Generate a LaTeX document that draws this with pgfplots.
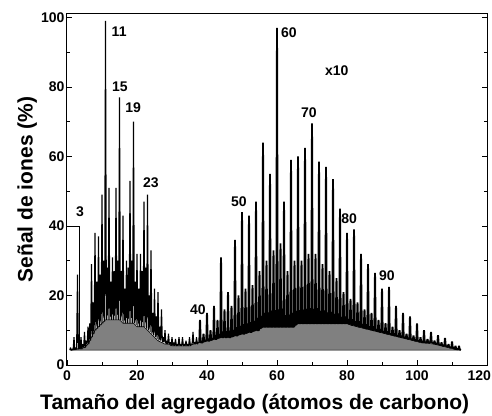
\documentclass[border=0pt]{standalone}
\usepackage{fontspec}
\setmainfont{Liberation Sans}
\usepackage{pgfplots}
\pgfplotsset{compat=1.18}
\pgfplotstableread{
x y
0.8 4.3
1 5
1.25 4.3
1.5 4.5
1.75 4.3
2 8
2.25 4.3
2.5 5
2.75 4.5
3 26
3.25 4.5
3.5 6
3.75 4.5
4 8
4.25 4.5
4.5 6
4.75 5
5 9.5
5.25 5
5.5 7
5.75 6
6 11
6.25 6
6.5 12
6.75 7
7 29
7.25 8
7.5 18
7.75 9
8 38
8.25 10
8.5 24
8.75 10.5
9 37
9.25 11
9.5 26
9.75 11.5
10 49
10.25 12
10.5 30
10.75 12.5
11 99
11.25 13
11.5 28
11.75 13
12 51
12.25 13
12.5 24
12.75 13
13 31
13.25 13
13.5 27
13.75 13
14 51
14.25 13
14.5 30
14.75 13
15 77
15.25 13
15.5 27
15.75 12.5
16 43
16.25 12
16.5 22
16.75 12
17 30
17.25 12
17.5 28
17.75 12
18 53
18.25 12
18.5 30
18.75 12
19 70
19.25 12
19.5 24
19.75 11.5
20 32
20.25 11
20.5 22
20.75 11
21 32
21.25 11
21.5 27
21.75 11
22 47
22.25 11
22.5 28
22.75 10.5
23 49
23.25 10
23.5 20
23.75 9.5
24 33
24.25 9
24.5 15
24.75 8.5
25 22
25.25 8
25.5 14
25.75 7.5
26 21
26.25 7
26.5 11
26.75 7
27 16
27.25 6.5
27.5 8
27.75 6.5
28 10
28.25 6
28.5 7
28.75 6
29 9
29.25 6
29.5 6.5
29.75 5.5
30 8
30.25 5.5
30.5 6.5
30.75 5.5
31 7.5
31.25 5.5
31.5 6
31.75 5.5
32 8
32.25 5.5
32.5 6
32.75 5.5
33 8
33.25 5.5
33.5 6
33.75 5.5
34 7
34.25 5.5
34.5 6
34.75 5.5
35 8
35.25 5.5
35.5 6
35.75 6
36 9.5
36.25 6
36.5 6.5
36.75 6
37 8
37.25 6
37.5 6.5
37.8 6.5
38 13
38.2 6.5
38.8 6.5
39 9
39.2 6.8
39.8 7
40 15
40.2 7
40.8 7
41 10
41.2 7.2
41.8 7.5
42 17
42.2 7.5
42.8 7.5
43 13
43.2 7.8
43.8 8
44 31
44.2 8
44.8 8
45 16
45.2 8
45.8 8
46 21
46.2 8
46.8 8
47 17
47.2 8.2
47.8 8.5
48 36
48.2 8.5
48.8 8.5
49 20
49.2 8.8
49.8 9
50 44
50.2 9
50.8 9
51 22
51.2 9.2
51.8 9.5
52 43
52.2 9.5
52.8 9.5
53 23
53.2 9.8
53.8 10
54 47
54.2 10
54.8 10
55 27
55.2 10.5
55.8 11
56 64
56.2 11
56.8 11
57 30
57.2 11
57.8 11
58 55
58.2 11
58.8 11
59 33
59.2 11
59.8 11
60 97
60.2 11
60.8 11
61 35
61.2 11
61.8 11
62 47
62.2 11
62.8 11
63 27
63.2 11
63.8 11
64 59
64.2 11
64.8 11
65 30
65.2 11.5
65.8 12
66 60
66.2 12
66.8 12
67 30
67.2 12
67.8 12
68 62.5
68.2 12
68.8 12
69 32
69.2 12
69.8 12
70 69.5
70.2 12
70.8 12
71 32
71.2 12
71.8 12
72 58.5
72.2 12
72.8 12
73 29
73.2 12
73.8 12
74 57
74.2 12
74.8 12
75 27
75.2 12
75.8 12
76 53.5
76.2 12
76.8 12
77 25
77.2 12
77.8 12
78 45
78.2 12
78.8 12
79 21
79.2 12
79.8 12
80 38
80.2 12
80.8 11.8
81 19
81.2 11.6
81.8 11.5
82 39
82.2 11.5
82.8 11.2
83 18
83.2 11.1
83.8 11
84 32
84.2 11
84.8 10.7
85 16
85.2 10.6
85.8 10.5
86 29
86.2 10.5
86.8 10.2
87 15
87.2 10.1
87.8 10
88 26.5
88.2 10
88.8 9.7
89 13
89.2 9.6
89.8 9.5
90 22
90.2 9.5
90.8 9.2
91 12
91.2 9.1
91.8 9
92 22.5
92.2 9
92.8 8.7
93 11
93.2 8.6
93.8 8.5
94 17
94.2 8.5
94.8 8.2
95 10
95.2 8.1
95.8 8
96 15
96.2 8
96.8 7.7
97 9
97.2 7.6
97.8 7.5
98 14
98.2 7.5
98.8 7.2
99 8.5
99.2 7.1
99.8 7
100 12
100.2 7
100.8 6.7
101 8
101.2 6.6
101.8 6.5
102 10
102.2 6.5
102.8 6.5
103 7.5
103.2 6.5
103.8 6.5
104 9.5
104.2 6.5
104.8 6.2
105 7
105.2 6.1
105.8 6
106 8.6
106.2 6
106.8 5.7
107 6.5
107.2 5.6
107.8 5.5
108 7.8
108.2 5.5
108.8 5.2
109 6
109.2 5.1
109.8 5
110 6.8
110.2 5
110.8 4.7
111 5.5
111.2 4.6
111.8 4.5
112 5.5
112.2 4.5
112.5 4.3
}\spectrum
\pgfplotstableread{
x y
0.8 4.3
5 5
6 6
7 8
8 10
9 11
10 12
11 13
15 13
16 12
19 12
20 11
22 11
23 10
24 9
25 8
26 7
27 6.5
28 6
29 6
30 5.5
35 5.5
36 6
38 6.5
40 7
42 7.5
44 8
47 8.5
49 9
51 9.5
53 10
55 10.5
56 11
65 11
66 12
80 12
81 11.5
83 11
85 10.5
87 10
89 9.5
91 9
93 8.5
95 8
97 7.5
99 7
101 6.5
105 6
107 5.5
109 5
111 4.5
112.5 4.3
0.8 4.3
}\envelope
\begin{document}
\begin{tikzpicture}
\useasboundingbox (-67pt,-50pt) rectangle (425pt,365pt);
\begin{axis}[
  at={(0,0)}, anchor=south west,
  scale only axis, width=420pt, height=351pt,
  xmin=0, xmax=120, ymin=0, ymax=101,
  xtick={0,20,...,120}, ytick={0,20,...,100},
  xticklabels={\textbf{0},\textbf{20},\textbf{40},\textbf{60},\textbf{80},\textbf{100},{\hbox to 0pt{\hss\textbf{120}\hskip-4pt}}},
  yticklabels={\textbf{0},\textbf{20},\textbf{40},\textbf{60},\textbf{80},\textbf{100}},
  minor xtick={10,30,...,110}, minor ytick={10,30,...,90},
  tick align=inside, xtick pos=left, ytick pos=both,
  major tick length=5pt, minor tick length=3pt,
  axis line style={line width=1pt},
  every tick/.style={black, line width=0.8pt},
  tick label style={font=\fontsize{14}{16}\selectfont\bfseries},
  xticklabel style={yshift=-2pt},
  yticklabel style={xshift=1pt},
  xlabel={Tamaño del agregado (átomos de carbono)},
  ylabel={Señal de iones (\%)},
  label style={font=\fontsize{21}{24}\selectfont\bfseries},
  xlabel style={at={(axis description cs:0.447,-0.111)}, anchor=center},
  ylabel style={at={(axis description cs:-0.095,0.5)}, anchor=center},
]
\addplot[draw=black, line width=0.6pt, fill=black!50] table {\envelope};
\addplot[black, line width=1.1pt, line join=miter, miter limit=2, restrict x to domain=0:37.9] table {\spectrum};
\addplot[black, line width=1.9pt, line join=bevel, restrict x to domain=37.7:113] table {\spectrum};
\addplot[black, line width=0.9pt] coordinates {(0.9,40) (3.7,40) (3.7,4.5)};
\begin{scope}[every node/.style={font=\fontsize{14}{16}\selectfont\bfseries, inner sep=0pt}]
\node at (axis cs:3.7,44) {3};
\node at (axis cs:14.9,96) {11};
\node at (axis cs:15.1,80) {15};
\node at (axis cs:18.9,74) {19};
\node at (axis cs:24,52.6) {23};
\node at (axis cs:37.4,15.8) {40};
\node at (axis cs:49.1,47) {50};
\node at (axis cs:63.4,95.7) {60};
\node at (axis cs:77.1,84.8) {x10};
\node at (axis cs:69.1,72.7) {70};
\node at (axis cs:80.6,42) {80};
\node at (axis cs:91.4,25.6) {90};
\end{scope}
\end{axis}
\end{tikzpicture}
\end{document}
